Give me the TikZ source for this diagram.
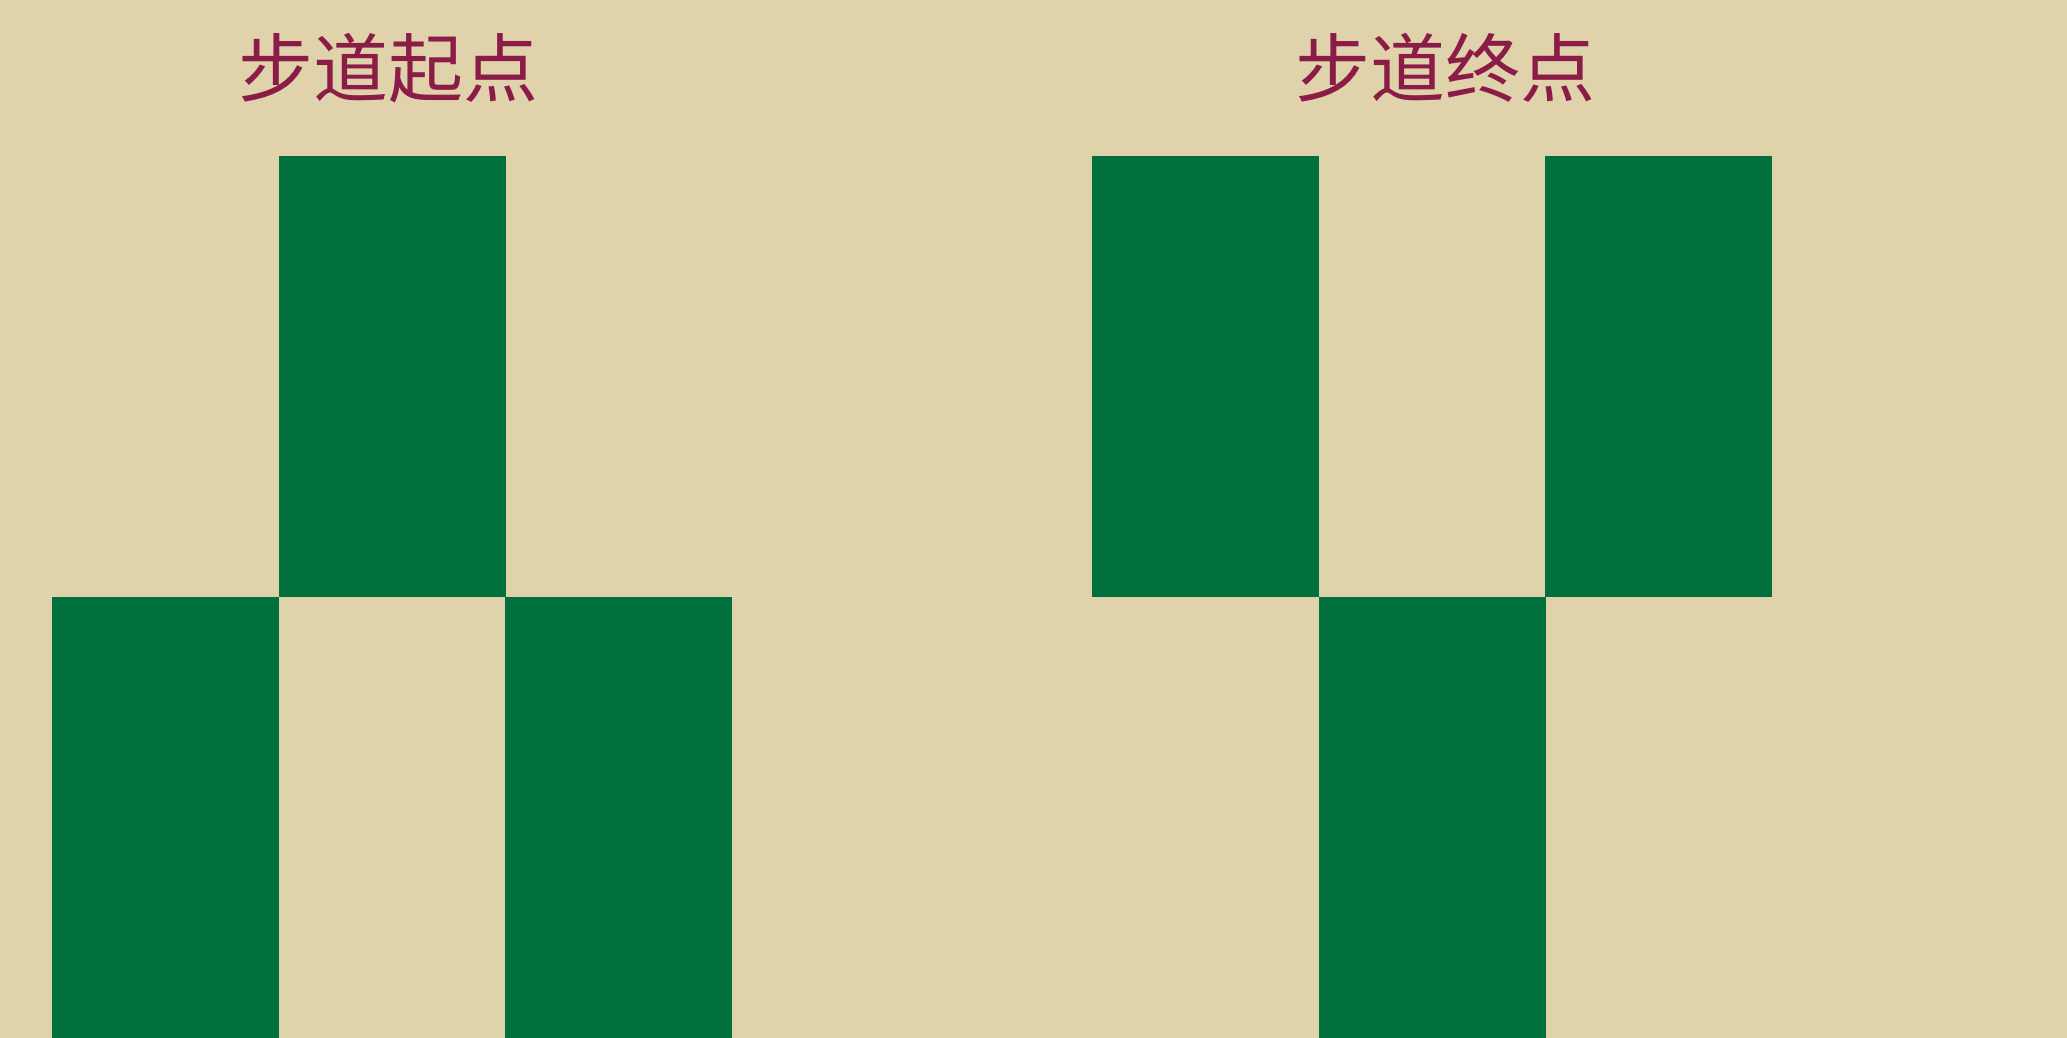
\documentclass[tikz,border=0pt]{standalone}
\usepackage{fontspec}
\newfontfamily\cjk{Noto Sans CJK SC}
\definecolor{bgbeige}{HTML}{E0D3AB}
\definecolor{tilegreen}{HTML}{00703C}
\definecolor{titlered}{HTML}{8B1C48}
\tikzset{
  tile/.style={fill=tilegreen, draw=none, inner sep=0pt, outer sep=0pt, minimum width=227pt, minimum height=441pt, anchor=north west},
  title/.style={text=titlered, font=\cjk\fontsize{75pt}{80pt}\selectfont, inner sep=0pt}
}
\begin{document}
\begin{tikzpicture}[x=1pt,y=-1pt]
  \fill[bgbeige] (0,0) rectangle (2067,1038);
  \useasboundingbox (0,0) rectangle (2067,1038);
  % left group
  \node[tile] (l1) at (279,156) {};
  \node[tile] (l2) at (52,597) {};
  \node[tile] (l3) at (505,597) {};
  % right group
  \node[tile] (r1) at (1092,156) {};
  \node[tile] (r2) at (1545,156) {};
  \node[tile] (r3) at (1319,597) {};
  \node[title] (t1) at (388,68) {步道起点};
  \node[title] (t2) at (1445,68) {步道终点};
\end{tikzpicture}
\end{document}
